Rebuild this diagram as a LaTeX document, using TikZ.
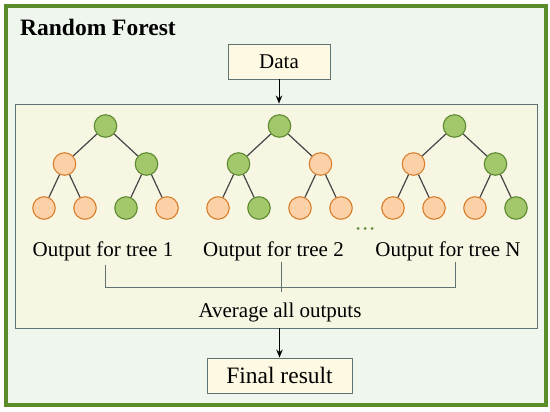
\documentclass[tikz,border=0pt]{standalone}
\usepackage{fontspec}
\setmainfont{Liberation Serif}
\usetikzlibrary{arrows.meta}
\definecolor{framegreen}{HTML}{5B8C2A}
\definecolor{bgpale}{HTML}{EFF6EE}
\definecolor{innerfill}{HTML}{F7F6E3}
\definecolor{boxfill}{HTML}{FDF9E2}
\definecolor{boxline}{HTML}{5F7373}
\definecolor{gfill}{HTML}{A3C86B}
\definecolor{gline}{HTML}{5E8A32}
\definecolor{ofill}{HTML}{FDD1A7}
\definecolor{oline}{HTML}{D9802E}
\definecolor{edgec}{HTML}{454545}
\definecolor{dotc}{HTML}{5E8A32}
\begin{document}
\begin{tikzpicture}[x=1pt,y=-1pt,
  gnode/.style={circle,draw=gline,fill=gfill,line width=1.1pt,minimum size=22.5pt,inner sep=0pt},
  onode/.style={circle,draw=oline,fill=ofill,line width=1.1pt,minimum size=22.5pt,inner sep=0pt},
  tedge/.style={draw=edgec,line width=1.2pt},
  lbl/.style={font=\fontsize{21}{24}\selectfont,inner sep=0pt,anchor=base},
  flowbox/.style={draw=boxline,fill=boxfill,line width=0.9pt,inner sep=0pt,font=\fontsize{21}{24}\selectfont},
  bracket/.style={draw=boxline,line width=0.9pt},
  flowarrow/.style={draw=black,line width=1pt,-{Stealth[length=8pt,width=6.5pt]}}]
\useasboundingbox (0,0) rectangle (550,412);
% outer frame
\draw[framegreen,fill=bgpale,line width=4pt] (6,6) rectangle (545.5,404.5);
\node[font=\fontsize{23.5}{27}\selectfont\bfseries,anchor=base west,inner sep=0pt] (title) at (20,36) {Random Forest};
% data box
\node[flowbox,minimum width=102pt,minimum height=35pt] (data) at (279,61.5) {Data};
% inner box
\node[draw=boxline,fill=innerfill,line width=0.9pt,minimum width=522pt,minimum height=224pt,inner sep=0pt] (inner) at (276,216) {};
\draw[flowarrow] (data.south) -- (data.south |- inner.north);
% tree 1
\node[gnode] (t1r) at (105.5,126) {};
\node[onode] (t1a) at (64.5,164) {};
\node[gnode] (t1b) at (146.5,164) {};
\node[onode] (t1c) at (44,208) {};
\node[onode] (t1d) at (85,208) {};
\node[gnode] (t1e) at (126,208) {};
\node[onode] (t1f) at (167,208) {};
% tree 2
\node[gnode] (t2r) at (279.5,126) {};
\node[gnode] (t2a) at (238.5,164) {};
\node[onode] (t2b) at (320.5,164) {};
\node[onode] (t2c) at (218,208) {};
\node[gnode] (t2d) at (259,208) {};
\node[onode] (t2e) at (300,208) {};
\node[onode] (t2f) at (341,208) {};
% tree 3
\node[gnode] (t3r) at (454.5,126) {};
\node[onode] (t3a) at (413.5,164) {};
\node[gnode] (t3b) at (495.5,164) {};
\node[onode] (t3c) at (393,208) {};
\node[onode] (t3d) at (434,208) {};
\node[onode] (t3e) at (475,208) {};
\node[gnode] (t3f) at (516,208) {};
\foreach \t in {1,2,3}{
  \draw[tedge] (t\t r) -- (t\t a);
  \draw[tedge] (t\t r) -- (t\t b);
  \draw[tedge] (t\t a) -- (t\t c);
  \draw[tedge] (t\t a) -- (t\t d);
  \draw[tedge] (t\t b) -- (t\t e);
  \draw[tedge] (t\t b) -- (t\t f);
}
% dots
\foreach \i/\x in {1/358,2/365,3/372}{
  \node[circle,fill=dotc,inner sep=0pt,minimum size=3pt] (dot\i) at (\x,228.5) {};
}
% labels
\node[lbl] (o1) at (103,256) {Output for tree 1};
\node[lbl] (o2) at (273.5,256) {Output for tree 2};
\node[lbl] (o3) at (448,256) {Output for tree N};
% bracket
\coordinate (b1t) at (105,265);
\coordinate (b1b) at (105,287);
\coordinate (b2t) at (281,262);
\coordinate (b2b) at (281,292);
\coordinate (b3t) at (455,262);
\coordinate (b3b) at (455,287);
\draw[bracket] (b1t) -- (b1b) -- (b3b) -- (b3t);
\draw[bracket] (b2t) -- (b2b);
\node[lbl] (avg) at (280,317) {Average all outputs};
% final
\node[flowbox,minimum width=145pt,minimum height=35pt,font=\fontsize{23.5}{27}\selectfont] (final) at (279.5,375.5) {Final result};
\draw[flowarrow] (final.north |- inner.south) -- (final.north);
\end{tikzpicture}
\end{document}
